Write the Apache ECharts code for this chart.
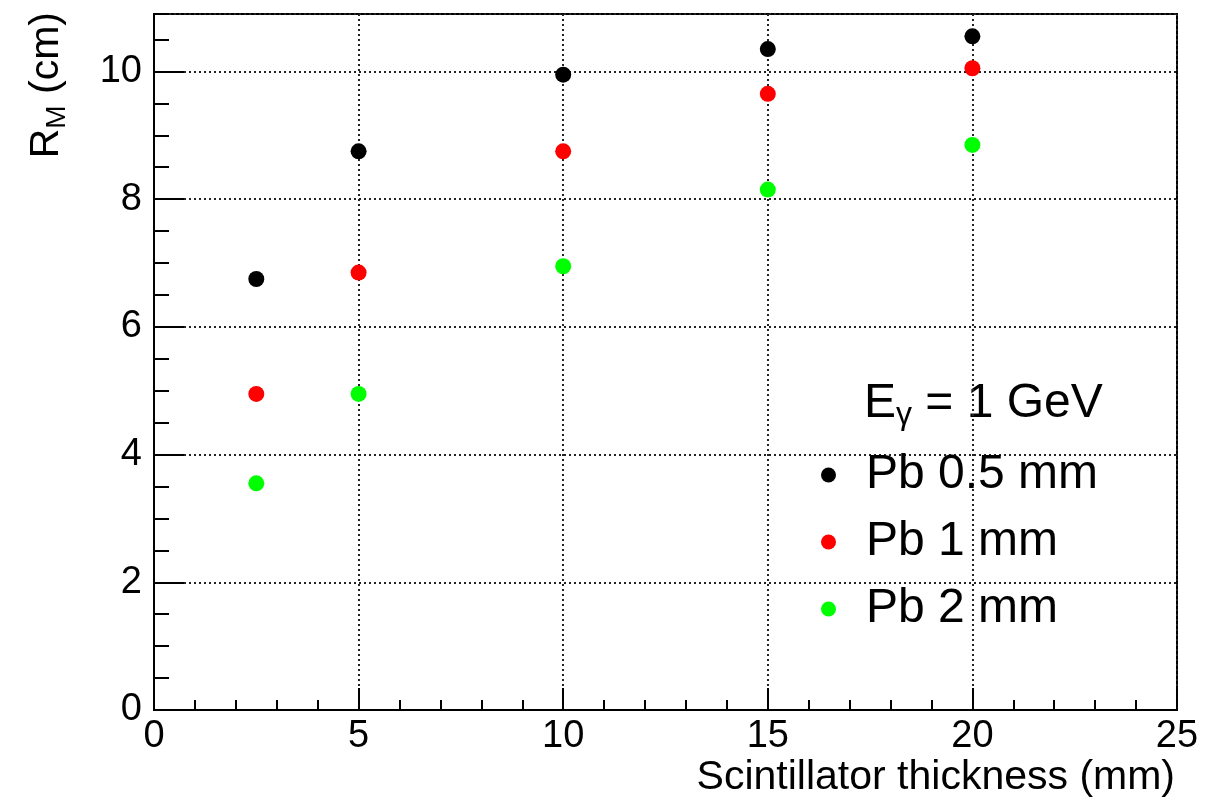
<!DOCTYPE html>
<html>
<head>
<meta charset="utf-8">
<script src="https://cdn.jsdelivr.net/npm/echarts@6/dist/echarts.min.js"></script>
<style>
  html, body { margin: 0; padding: 0; background: #fff; }
  #chart { width: 1205px; height: 802px; }
</style>
</head>
<body>
<div id="chart"></div>
<script>
// scintillator thickness (mm)
var thickness = [2.5, 5, 10, 15, 20];
// R_M (cm) for each Pb thickness
var pb05 = [6.75, 8.75, 9.95, 10.35, 10.55];
var pb1 = [4.95, 6.85, 8.75, 9.65, 10.05];
var pb2 = [3.55, 4.95, 6.95, 8.15, 8.85];
var seriesNames = ['Pb 0.5 mm', 'Pb 1 mm', 'Pb 2 mm'];
var seriesColors = ['#000000', '#ff0000', '#00ff00'];

var FONT = 'Liberation Sans, Arial, Helvetica, sans-serif';

function pairs(vals) {
    return thickness.map(function (x, i) { return [x, vals[i]]; });
}

var myChart = echarts.init(document.getElementById('chart'));

var dotted = { color: '#222', width: 2, type: [2, 3] };

var option = {
    animation: false,
    backgroundColor: '#fff',
    grid: {
        left: 154, right: 28, top: 14, bottom: 92,
        show: true, borderColor: '#000', borderWidth: 2
    },
    xAxis: {
        type: 'value', min: 0, max: 25, interval: 5,
        axisLine: { show: true, onZero: false, lineStyle: { color: '#000', width: 2 } },
        axisTick: { show: true, inside: true, length: 22, lineStyle: { color: '#000', width: 2 } },
        minorTick: { show: true, splitNumber: 5, length: 10, lineStyle: { color: '#000', width: 2 } },
        axisLabel: { color: '#000', fontSize: 38, fontFamily: FONT, margin: 8 },
        splitLine: { show: true, lineStyle: dotted }
    },
    yAxis: [{
        type: 'value', min: 0, max: 10.9, interval: 2,
        axisLine: { show: true, onZero: false, lineStyle: { color: '#000', width: 2 } },
        axisTick: { show: true, inside: true, length: 30, lineStyle: { color: '#000', width: 2 } },
        axisLabel: { color: '#000', fontSize: 38, fontFamily: FONT, margin: 12, showMaxLabel: false },
        splitLine: { show: true, lineStyle: dotted }
    }, {
        // minor ticks every 0.5
        type: 'value', min: 0, max: 10.9, interval: 0.5, position: 'left',
        axisLine: { show: false },
        axisTick: { show: true, inside: true, length: 15, lineStyle: { color: '#000', width: 2 } },
        axisLabel: { show: false },
        splitLine: { show: false }
    }],
    legend: {
        orient: 'vertical',
        left: 816, top: 446,
        icon: 'circle',
        itemWidth: 15, itemHeight: 15,
        itemGap: 19,
        data: seriesNames,
        itemStyle: { opacity: 1 },
        textStyle: { color: '#000', fontSize: 48, lineHeight: 48, fontFamily: FONT, padding: [0, 0, 0, 25] }
    },
    graphic: [{
        type: 'text',
        x: 47, y: 12, rotation: Math.PI / 2,
        style: {
            text: '{b|R}{s|M}{b| (cm)}',
            align: 'right', verticalAlign: 'middle',
            fill: '#000', font: '41px ' + FONT,
            rich: {
                b: { fontSize: 41, lineHeight: 48, fontFamily: FONT, fill: '#000' },
                s: { fontSize: 28, lineHeight: 28, fontFamily: FONT, fill: '#000', verticalAlign: 'bottom', padding: [20, 0, 0, 0] }
            }
        }
    }, {
        type: 'text',
        x: 1175, y: 778,
        style: {
            text: 'Scintillator thickness (mm)',
            align: 'right', verticalAlign: 'middle',
            fill: '#000', font: '41px ' + FONT
        }
    }, {
        type: 'text',
        x: 864, y: 404,
        style: {
            text: '{b|E}{s|γ}{b| = 1 GeV}',
            align: 'left', verticalAlign: 'middle',
            fill: '#000', font: '48px ' + FONT,
            rich: {
                b: { fontSize: 48, lineHeight: 54, fontFamily: FONT, fill: '#000' },
                s: { fontSize: 32, lineHeight: 32, fontFamily: FONT, fill: '#000', verticalAlign: 'bottom', padding: [22, 0, 0, 0] }
            }
        }
    }],
    series: [pb05, pb1, pb2].map(function (vals, i) {
        return {
            name: seriesNames[i],
            type: 'scatter',
            symbol: 'circle',
            symbolSize: 16,
            itemStyle: { color: seriesColors[i], opacity: 1 },
            data: pairs(vals)
        };
    })
};

myChart.setOption(option);
</script>
</body>
</html>
